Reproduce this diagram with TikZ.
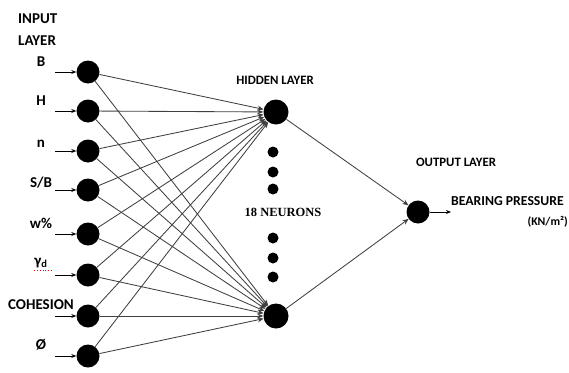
\documentclass[tikz,border=0pt]{standalone}
\usepackage{fontspec}
\setmainfont{Carlito}
\newfontfamily\serifb{Liberation Serif}
\usetikzlibrary{arrows.meta}
\begin{document}
\begin{tikzpicture}[x=1pt,y=-1pt,
 neuron/.style={circle,fill=black,inner sep=0pt,minimum size=23pt},
 hneuron/.style={circle,fill=black,inner sep=0pt,minimum size=25pt},
 dotn/.style={circle,fill=black,inner sep=0pt,minimum size=11pt},
 lab/.style={font=\bfseries\fontsize{15}{15}\selectfont,inner sep=0pt},
 title/.style={font=\bfseries\fontsize{12.8}{12.8}\selectfont,inner sep=0pt},
 conn/.style={draw=black!75,line width=0.85pt,-{Stealth[length=6pt,width=5pt]}},
 inarr/.style={draw=black,line width=0.9pt,-{Stealth[length=5pt,width=4pt]}}]
\useasboundingbox (0,0) rectangle (569,372);
% titles
\node[lab,anchor=west] (tin1) at (18,19) {INPUT};
\node[lab,anchor=west] (tin2) at (18,41) {LAYER};
\node[title] (thid) at (275,80) {HIDDEN LAYER};
\node[title] (tout) at (456,162) {OUTPUT LAYER};
\node[font=\serifb\bfseries\fontsize{12.5}{12.5}\selectfont,inner sep=0pt] (tneu) at (283,212) {18 NEURONS};
% input neurons
\node[neuron] (i1) at (88,72) {};
\node[neuron] (i2) at (88,111) {};
\node[neuron] (i3) at (88,151) {};
\node[neuron] (i4) at (88,190) {};
\node[neuron] (i5) at (88,234) {};
\node[neuron] (i6) at (88,275) {};
\node[neuron] (i7) at (88,316) {};
\node[neuron] (i8) at (88,356) {};
% input labels
\node[lab] (l1) at (41,62) {B};
\node[lab] (l2) at (41,101) {H};
\node[lab] (l3) at (41,144) {n};
\node[lab] (l4) at (41,183) {S/B};
\node[lab] (l5) at (41,223) {w\%};
\node[lab] (l6) at (41,263) {γ\textsubscript{d}};
\draw[red,line width=0.8pt,dotted] (l6.south west) ++(0,2) -- ++(17,0);
\node[lab] (l7) at (41,305) {COHESION};
\node[lab] (l8) at (41,345) {Ø};
% input arrow tails
\coordinate (s1) at (55,72);
\coordinate (s2) at (55,111);
\coordinate (s3) at (55,151);
\coordinate (s4) at (55,190);
\coordinate (s5) at (55,234);
\coordinate (s6) at (55,275);
\coordinate (s7) at (55,316);
\coordinate (s8) at (55,356);
\foreach \k in {1,...,8} \draw[inarr] (s\k) -- (i\k);
% hidden neurons
\node[hneuron] (h1) at (276,112) {};
\node[hneuron] (h2) at (276,316) {};
\node[dotn] (d1) at (273,152) {};
\node[dotn] (d2) at (273,172) {};
\node[dotn] (d3) at (273,189) {};
\node[dotn] (d4) at (273,238) {};
\node[dotn] (d5) at (273,258) {};
\node[dotn] (d6) at (273,277) {};
% output neuron
\node[neuron] (o) at (418,212) {};
\coordinate (oe) at (451,212);
% connections
\foreach \k in {1,...,8} {
  \draw[conn] (i\k) -- (h1);
  \draw[conn] (i\k) -- (h2);
}
\draw[conn] (h1) -- (o);
\draw[conn] (h2) -- (o);
\draw[inarr] (o) -- (oe);
\node[lab,anchor=west,font=\bfseries\fontsize{13.7}{13.7}\selectfont] (bp) at (451,201) {BEARING PRESSURE};
\node[lab,anchor=east,font=\bfseries\fontsize{11.8}{11.8}\selectfont] (kn) at (568,222) {(KN/m²)};
\end{tikzpicture}
\end{document}
